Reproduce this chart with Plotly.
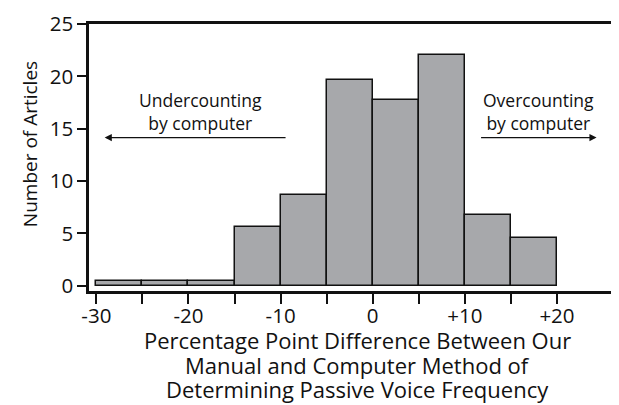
import plotly.graph_objects as go

BIN_STARTS = [-30, -25, -20, -15, -10, -5, 0, 5, 10, 15]
BIN_WIDTH = 5
ARTICLE_COUNTS = [0.45, 0.45, 0.45, 5.65, 8.65, 19.65, 17.7, 22.05, 6.75, 4.6]

X_TICKS = [-30, -25, -20, -15, -10, -5, 0, 5, 10, 15, 20]
X_TICK_LABELS = ["-30", "", "-20", "", "-10", "", "0", "", "+10", "", "+20"]
Y_TICKS = [0, 5, 10, 15, 20, 25]

X_TITLE_LINES = [
    "Percentage Point Difference Between Our",
    "Manual and Computer Method of",
    "Determining Passive Voice Frequency",
]
Y_TITLE = "Number of Articles"

FONT = "Open Sans"
INK = "#111111"

centers = [start + BIN_WIDTH / 2 for start in BIN_STARTS]

fig = go.Figure()
fig.add_trace(
    go.Bar(
        x=centers,
        y=ARTICLE_COUNTS,
        width=BIN_WIDTH,
        marker={"color": "#a7a8ab", "line": {"color": INK, "width": 1.5}},
        showlegend=False,
        hoverinfo="skip",
    )
)

# direction notes inside the plot
for x, note in [(-18.7, "Undercounting<br>by computer"), (18.0, "Overcounting<br>by computer")]:
    fig.add_annotation(
        x=x, y=16.6, xref="x", yref="y", showarrow=False, text=note,
        font={"size": 17.5, "family": FONT, "color": INK},
    )

for tip, tail in [(-29.1, -9.3), (24.3, 11.6)]:
    fig.add_annotation(
        x=tip, y=14.15, ax=tail, ay=14.15, xref="x", yref="y", axref="x", ayref="y",
        text="", showarrow=True, arrowhead=2, arrowsize=1.1, arrowwidth=1.3, arrowcolor=INK,
    )

# axis titles as annotations so the line spacing can follow the original
for shift, line in zip([-49, -74, -98], X_TITLE_LINES):
    fig.add_annotation(
        x=0.51, y=0, xref="paper", yref="paper", yshift=shift, showarrow=False,
        text=line, xanchor="center", yanchor="middle",
        font={"size": 22, "family": FONT, "color": INK},
    )
fig.add_annotation(
    x=0, y=0.55, xref="paper", yref="paper", xshift=-59, showarrow=False,
    text=Y_TITLE, textangle=-90, xanchor="center", yanchor="middle",
    font={"size": 19, "family": FONT, "color": INK},
)

axis_common = {
    "ticks": "outside",
    "tickwidth": 1.5,
    "tickcolor": INK,
    "showline": True,
    "linecolor": INK,
    "linewidth": 2.5,
    "mirror": True,
    "showgrid": False,
    "zeroline": False,
    "tickfont": {"size": 20.5, "family": FONT, "color": INK},
}

# the page body adds an 8px margin, so the figure is sized to fit inside it
fig.update_layout(
    width=611,
    height=397,
    margin={"l": 81, "r": 1, "t": 16, "b": 114},
    paper_bgcolor="white",
    plot_bgcolor="white",
    font={"family": FONT, "color": INK},
    bargap=0,
    xaxis={**axis_common, "range": [-30.8, 26.3], "tickvals": X_TICKS,
           "ticktext": X_TICK_LABELS, "ticklen": 10, "ticklabelstandoff": -5},
    yaxis={**axis_common, "range": [-0.5, 25], "tickvals": Y_TICKS, "ticklen": 9},
)

fig.write_html("out.html")
